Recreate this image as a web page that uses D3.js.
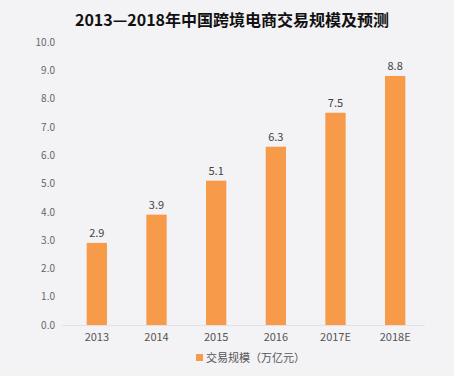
<!DOCTYPE html>
<html>
<head>
<meta charset="utf-8">
<script src="https://cdn.jsdelivr.net/npm/d3@7"></script>
<style>
body { margin: 0; background: #f3f2f5; }
text { font-family: "Noto Sans CJK SC", "Microsoft YaHei", sans-serif; }
</style>
</head>
<body>
<div id="vis"></div>
<script>
var years = ['2013', '2014', '2015', '2016', '2017E', '2018E'];
var values = [2.9, 3.9, 5.1, 6.3, 7.5, 8.8];
var yTicks = [0, 1, 2, 3, 4, 5, 6, 7, 8, 9, 10];
var title = '2013\u20142018年中国跨境电商交易规模及预测';
var legendLabel = '交易规模（万亿元）';

var width = 454, height = 376;
var barColor = '#f79a4a';

var svg = d3.select('#vis')
    .append('svg')
        .attr('width', width)
        .attr('height', height);

svg.append('rect')
    .attr('width', width)
    .attr('height', height)
    .attr('fill', '#f3f2f5');

var x_scale = d3.scaleBand()
    .domain(years)
    .range([67, 425])
    .paddingInner(0.66)
    .paddingOuter(0.33);

var y_scale = d3.scaleLinear()
    .domain([0, 10])
    .range([325, 42]);

// title
svg.append('text')
    .attr('x', 232)
    .attr('y', 26)
    .attr('text-anchor', 'middle')
    .attr('font-size', 16)
    .attr('font-weight', 'bold')
    .attr('fill', '#111')
    .text(title);

// y axis labels, no line
var yAxis = svg.append('g')
    .attr('transform', 'translate(55,0)')
    .call(d3.axisLeft(y_scale).tickValues(yTicks).tickFormat(d3.format('.1f')).tickSize(0).tickPadding(0));
yAxis.select('.domain').remove();
yAxis.selectAll('text')
    .attr('font-size', 10)
    .attr('fill', '#666');

// baseline
svg.append('line')
    .attr('x1', 62)
    .attr('x2', 425)
    .attr('y1', y_scale(0) + 0.5)
    .attr('y2', y_scale(0) + 0.5)
    .attr('stroke', '#e2e1e5');

// x axis labels
var xAxis = svg.append('g')
    .attr('transform', 'translate(0,' + y_scale(0) + ')')
    .call(d3.axisBottom(x_scale).tickSize(0).tickPadding(8));
xAxis.select('.domain').remove();
xAxis.selectAll('text')
    .attr('font-size', 11)
    .attr('fill', '#555');

// bars
svg.selectAll('.bar')
    .data(values)
    .enter()
    .append('rect')
    .attr('class', 'bar')
    .attr('x', function(d, i){ return x_scale(years[i]); })
    .attr('y', function(d){ return y_scale(d); })
    .attr('width', x_scale.bandwidth())
    .attr('height', function(d){ return y_scale(0) - y_scale(d); })
    .attr('fill', barColor);

// value labels
svg.selectAll('.val')
    .data(values)
    .enter()
    .append('text')
    .attr('class', 'val')
    .attr('x', function(d, i){ return x_scale(years[i]) + x_scale.bandwidth() / 2; })
    .attr('y', function(d){ return y_scale(d) - 6; })
    .attr('text-anchor', 'middle')
    .attr('font-size', 11)
    .attr('fill', '#444')
    .text(function(d){ return d.toFixed(1); });

// legend
svg.append('rect')
    .attr('x', 196)
    .attr('y', 354)
    .attr('width', 7)
    .attr('height', 7)
    .attr('fill', barColor);
svg.append('text')
    .attr('x', 206)
    .attr('y', 362)
    .attr('font-size', 11)
    .attr('fill', '#555')
    .text(legendLabel);
</script>
</body>
</html>
